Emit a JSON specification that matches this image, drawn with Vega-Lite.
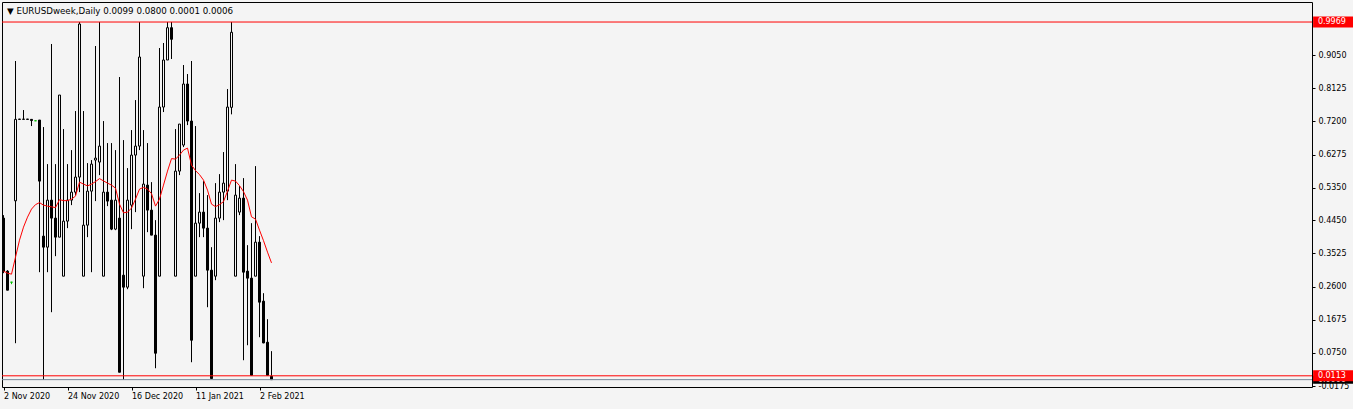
{
  "$schema": "https://vega.github.io/schema/vega-lite/v6.json",
  "width": 1310,
  "height": 385,
  "autosize": "none",
  "padding": {"left": 2, "top": 2, "right": 41, "bottom": 22},
  "background": "#f4f4f4",
  "config": {
    "view": {"fill": "#f4f4f4", "stroke": "#000000", "strokeWidth": 1},
    "font": "DejaVu Sans",
    "axis": {"labelOverlap": false}
  },
  "title": {
    "text": "▼  EURUSDweek,Daily  0.0099 0.0800 0.0001 0.0006",
    "anchor": "start",
    "frame": "group",
    "orient": "top",
    "offset": -11,
    "dy": 10,
    "baseline": "alphabetic",
    "font": "DejaVu Sans",
    "fontSize": 8.7,
    "fontWeight": "normal",
    "color": "#000000",
    "dx": 5
  },
  "datasets": {
    "bars": [
      {"n":0,"d":"2020-11-02","o":0.4506,"h":0.4589,"l":0.2972,"c":0.3028,"ma":0.3028},
      {"n":1,"d":"2020-11-03","o":0.3028,"h":0.3056,"l":0.2498,"c":0.2498,"ma":0.2972},
      {"n":2,"d":"2020-11-04","o":0.2721,"h":0.2721,"l":0.2666,"c":0.2721,"ma":0.2944},
      {"n":3,"d":"2020-11-05","o":0.4988,"h":0.8883,"l":0.1021,"c":0.7257,"ma":0.3418},
      {"n":4,"d":"2020-11-06","o":0.7266,"h":0.7266,"l":0.7252,"c":0.7257,"ma":0.3892},
      {"n":5,"d":"2020-11-09","o":0.7257,"h":0.7517,"l":0.7252,"c":0.7266,"ma":0.4255},
      {"n":6,"d":"2020-11-10","o":0.7266,"h":0.7266,"l":0.7252,"c":0.7257,"ma":0.4533},
      {"n":7,"d":"2020-11-11","o":0.7257,"h":0.7266,"l":0.7071,"c":0.7224,"ma":0.4757},
      {"n":8,"d":"2020-11-12","o":0.7218,"h":0.7218,"l":0.7210,"c":0.7218,"ma":0.4882},
      {"n":9,"d":"2020-11-13","o":0.7238,"h":0.7238,"l":0.3000,"c":0.5537,"ma":0.4938},
      {"n":10,"d":"2020-11-16","o":0.4004,"h":0.7043,"l":0.0001,"c":0.3697,"ma":0.4868},
      {"n":11,"d":"2020-11-17","o":0.3697,"h":0.6011,"l":0.3000,"c":0.5007,"ma":0.4840},
      {"n":12,"d":"2020-11-18","o":0.5007,"h":0.9357,"l":0.1885,"c":0.4506,"ma":0.4821},
      {"n":13,"d":"2020-11-19","o":0.4506,"h":0.6011,"l":0.3446,"c":0.3976,"ma":0.4798},
      {"n":14,"d":"2020-11-20","o":0.3976,"h":0.7935,"l":0.3976,"c":0.7935,"ma":0.5021},
      {"n":15,"d":"2020-11-23","o":0.2889,"h":0.6987,"l":0.2889,"c":0.4422,"ma":0.4993},
      {"n":16,"d":"2020-11-24","o":0.4422,"h":0.6011,"l":0.4227,"c":0.5007,"ma":0.4993},
      {"n":17,"d":"2020-11-25","o":0.5007,"h":0.6401,"l":0.4868,"c":0.5230,"ma":0.5035},
      {"n":18,"d":"2020-11-26","o":0.5230,"h":0.7489,"l":0.5147,"c":0.5649,"ma":0.5119},
      {"n":19,"d":"2020-11-27","o":0.5649,"h":0.9969,"l":0.5230,"c":0.9914,"ma":0.5509},
      {"n":20,"d":"2020-11-30","o":0.2889,"h":0.7489,"l":0.2889,"c":0.4310,"ma":0.5454},
      {"n":21,"d":"2020-12-01","o":0.4310,"h":0.6039,"l":0.3976,"c":0.5258,"ma":0.5403},
      {"n":22,"d":"2020-12-02","o":0.5258,"h":0.6123,"l":0.3000,"c":0.6011,"ma":0.5454},
      {"n":23,"d":"2020-12-03","o":0.6123,"h":0.9301,"l":0.4980,"c":0.6178,"ma":0.5523},
      {"n":24,"d":"2020-12-04","o":0.6067,"h":0.9969,"l":0.5704,"c":0.6513,"ma":0.5607},
      {"n":25,"d":"2020-12-07","o":0.2889,"h":0.7210,"l":0.2889,"c":0.5230,"ma":0.5543},
      {"n":26,"d":"2020-12-08","o":0.5230,"h":0.6597,"l":0.4840,"c":0.4980,"ma":0.5481},
      {"n":27,"d":"2020-12-09","o":0.5007,"h":0.6597,"l":0.4171,"c":0.4199,"ma":0.5426},
      {"n":28,"d":"2020-12-10","o":0.4199,"h":0.6401,"l":0.4171,"c":0.5007,"ma":0.5342},
      {"n":29,"d":"2020-12-11","o":0.4506,"h":0.8437,"l":0.0212,"c":0.0212,"ma":0.4896},
      {"n":30,"d":"2020-12-14","o":0.2916,"h":0.6680,"l":0.0001,"c":0.2582,"ma":0.4653},
      {"n":31,"d":"2020-12-15","o":0.2582,"h":0.5900,"l":0.2526,"c":0.5007,"ma":0.4673},
      {"n":32,"d":"2020-12-16","o":0.4868,"h":0.6959,"l":0.4199,"c":0.6262,"ma":0.4784},
      {"n":33,"d":"2020-12-17","o":0.6262,"h":0.7795,"l":0.4673,"c":0.6513,"ma":0.5035},
      {"n":34,"d":"2020-12-18","o":0.6513,"h":0.9969,"l":0.6401,"c":0.8994,"ma":0.5314},
      {"n":35,"d":"2020-12-21","o":0.2889,"h":0.6959,"l":0.2554,"c":0.5454,"ma":0.5362},
      {"n":36,"d":"2020-12-22","o":0.5426,"h":0.6597,"l":0.4115,"c":0.4729,"ma":0.5314},
      {"n":37,"d":"2020-12-23","o":0.4729,"h":0.5509,"l":0.4032,"c":0.4032,"ma":0.5189},
      {"n":38,"d":"2020-12-24","o":0.4032,"h":0.4450,"l":0.0324,"c":0.0742,"ma":0.4840},
      {"n":39,"d":"2020-12-28","o":0.2889,"h":0.9245,"l":0.2889,"c":0.7600,"ma":0.5035},
      {"n":40,"d":"2020-12-29","o":0.7600,"h":0.9385,"l":0.7461,"c":0.8911,"ma":0.5426},
      {"n":41,"d":"2020-12-30","o":0.8911,"h":0.9969,"l":0.8911,"c":0.9811,"ma":0.5816},
      {"n":42,"d":"2020-12-31","o":0.9811,"h":0.9969,"l":0.8939,"c":0.9488,"ma":0.6164},
      {"n":43,"d":"2021-01-04","o":0.2889,"h":0.6987,"l":0.2889,"c":0.5816,"ma":0.6150},
      {"n":44,"d":"2021-01-05","o":0.5816,"h":0.7071,"l":0.5704,"c":0.7126,"ma":0.6262},
      {"n":45,"d":"2021-01-06","o":0.6541,"h":0.8771,"l":0.6485,"c":0.8242,"ma":0.6401},
      {"n":46,"d":"2021-01-07","o":0.8242,"h":0.8520,"l":0.7098,"c":0.7210,"ma":0.6457},
      {"n":47,"d":"2021-01-08","o":0.7210,"h":0.8883,"l":0.0491,"c":0.1104,"ma":0.5983},
      {"n":48,"d":"2021-01-11","o":0.2889,"h":0.7071,"l":0.2889,"c":0.4366,"ma":0.5830},
      {"n":49,"d":"2021-01-12","o":0.4366,"h":0.5203,"l":0.3976,"c":0.4673,"ma":0.5718},
      {"n":50,"d":"2021-01-13","o":0.4673,"h":0.5537,"l":0.3976,"c":0.4227,"ma":0.5565},
      {"n":51,"d":"2021-01-14","o":0.4227,"h":0.5147,"l":0.2024,"c":0.3056,"ma":0.5286},
      {"n":52,"d":"2021-01-15","o":0.3056,"h":0.3697,"l":0.0036,"c":0.0036,"ma":0.4896},
      {"n":53,"d":"2021-01-18","o":0.2889,"h":0.5481,"l":0.2777,"c":0.4506,"ma":0.4826},
      {"n":54,"d":"2021-01-19","o":0.4506,"h":0.5732,"l":0.4394,"c":0.5230,"ma":0.4882},
      {"n":55,"d":"2021-01-20","o":0.5230,"h":0.6346,"l":0.4450,"c":0.5481,"ma":0.4966},
      {"n":56,"d":"2021-01-21","o":0.5258,"h":0.8102,"l":0.5007,"c":0.7600,"ma":0.5258},
      {"n":57,"d":"2021-01-22","o":0.7592,"h":0.9969,"l":0.7397,"c":0.9683,"ma":0.5565},
      {"n":58,"d":"2021-01-25","o":0.2889,"h":0.6011,"l":0.2889,"c":0.5147,"ma":0.5537},
      {"n":59,"d":"2021-01-26","o":0.4673,"h":0.5398,"l":0.4589,"c":0.5063,"ma":0.5412},
      {"n":60,"d":"2021-01-27","o":0.5063,"h":0.5621,"l":0.0547,"c":0.3000,"ma":0.5244},
      {"n":61,"d":"2021-01-28","o":0.3028,"h":0.3753,"l":0.0965,"c":0.2833,"ma":0.5007},
      {"n":62,"d":"2021-01-29","o":0.2833,"h":0.4366,"l":0.0128,"c":0.0128,"ma":0.4542},
      {"n":63,"d":"2021-02-01","o":0.2889,"h":0.5955,"l":0.2889,"c":0.3836,"ma":0.4478},
      {"n":64,"d":"2021-02-02","o":0.3836,"h":0.4004,"l":0.1188,"c":0.2164,"ma":0.4171},
      {"n":65,"d":"2021-02-03","o":0.2192,"h":0.2415,"l":0.1021,"c":0.1029,"ma":0.3878},
      {"n":66,"d":"2021-02-04","o":0.1048,"h":0.1690,"l":0.0128,"c":0.0128,"ma":0.3558},
      {"n":67,"d":"2021-02-05","o":0.0099,"h":0.0800,"l":0.0001,"c":0.0006,"ma":0.3259}
    ],
    "levels": [
      {"v": 0.0006, "kind": "bid"},
      {"v": 0.9969, "kind": "level"},
      {"v": 0.0113, "kind": "level"}
    ]
  },
  "data": {"name": "bars"},
  "encoding": {
    "y": {
      "type": "quantitative",
      "scale": {"domain": [-0.0199, 1.0527], "nice": false, "zero": false, "padding": 0},
      "axis": {
        "orient": "right",
        "values": [0.905, 0.8125, 0.72, 0.6275, 0.535, 0.445, 0.3525, 0.26, 0.1675, 0.075, -0.0175],
        "labelExpr": "replace(format(datum.value, '.4f'), '\u2212', '-')",
        "labelFont": "DejaVu Sans",
        "labelFontSize": 8,
        "labelColor": "#000000",
        "labelPadding": 3,
        "labelOverlap": false,
        "labelFlush": false,
        "labelBound": false,
        "tickSize": 3,
        "tickColor": "#000000",
        "domain": false,
        "grid": false,
        "title": null
      }
    }
  },
  "layer": [
    {
      "mark": {"type": "rule", "strokeWidth": 1},
      "encoding": {
        "x": {
          "field": "n",
          "type": "quantitative",
          "scale": {"domain": [-0.375, 327.125], "nice": false, "zero": false, "padding": 0},
          "axis": {
            "orient": "bottom",
            "values": [0, 16, 32, 48, 64],
            "labelExpr": "datum.value == 0 ? '2 Nov 2020' : datum.value == 16 ? '24 Nov 2020' : datum.value == 32 ? '16 Dec 2020' : datum.value == 48 ? '11 Jan 2021' : '2 Feb 2021'",
            "labelAlign": "left",
            "labelFont": "DejaVu Sans",
            "labelFontSize": 8,
            "labelColor": "#000000",
            "labelPadding": 2,
            "labelOverlap": false,
            "labelFlush": false,
            "labelBound": false,
            "tickSize": 3,
            "tickColor": "#000000",
            "domain": false,
            "grid": false,
            "title": null
          }
        },
        "y": {"field": "h"},
        "y2": {"field": "l"},
        "color": {
          "condition": {"test": "datum.o == datum.c", "value": "#00c000"},
          "value": "#000000"
        }
      }
    },
    {
      "mark": {"type": "bar", "width": 2, "strokeWidth": 1, "stroke": "#000000"},
      "encoding": {
        "x": {"field": "n", "type": "quantitative"},
        "y": {"field": "o"},
        "y2": {"field": "c"},
        "fill": {
          "condition": {"test": "datum.c >= datum.o", "value": "#f4f4f4"},
          "value": "#000000"
        },
        "stroke": {
          "condition": {"test": "datum.o == datum.c", "value": "#00c000"},
          "value": "#000000"
        }
      }
    },
    {
      "mark": {"type": "line", "color": "#ff0000", "strokeWidth": 1, "interpolate": "linear"},
      "encoding": {
        "x": {"field": "n", "type": "quantitative"},
        "y": {"field": "ma"}
      }
    },
    {
      "data": {"name": "levels"},
      "mark": {"type": "rule", "strokeWidth": 1},
      "encoding": {
        "y": {"field": "v"},
        "color": {
          "condition": {"test": "datum.kind == 'bid'", "value": "#778899"},
          "value": "#ff0000"
        }
      }
    },
    {
      "data": {"name": "levels"},
      "transform": [{"filter": "datum.kind == 'bid'"}],
      "mark": {"type": "point", "shape": "M-1,-0.2L1,-0.2L1,0.2L-1,0.2Z", "size": 1600, "filled": true, "opacity": 1, "color": "#000000", "strokeWidth": 0, "clip": false},
      "encoding": {
        "x": {"datum": 332.4, "type": "quantitative"},
        "y": {"field": "v"}
      }
    },
    {
      "data": {"name": "levels"},
      "transform": [{"filter": "datum.kind == 'bid'"}],
      "mark": {"type": "text", "align": "left", "baseline": "middle", "color": "#ffffff", "font": "DejaVu Sans", "fontSize": 8, "clip": false},
      "encoding": {
        "x": {"datum": 328.6, "type": "quantitative"},
        "y": {"field": "v"},
        "text": {"field": "v", "type": "quantitative", "format": ".4f"}
      }
    },
    {
      "data": {"name": "levels"},
      "transform": [{"filter": "datum.kind == 'level'"}],
      "mark": {"type": "point", "shape": "M-1,-0.275L1,-0.275L1,0.275L-1,0.275Z", "size": 1600, "filled": true, "opacity": 1, "color": "#ff0000", "strokeWidth": 0, "clip": false},
      "encoding": {
        "x": {"datum": 332.4, "type": "quantitative"},
        "y": {"field": "v"}
      }
    },
    {
      "data": {"name": "levels"},
      "transform": [{"filter": "datum.kind == 'level'"}],
      "mark": {"type": "text", "align": "left", "baseline": "middle", "color": "#ffffff", "font": "DejaVu Sans", "fontSize": 8, "clip": false},
      "encoding": {
        "x": {"datum": 328.6, "type": "quantitative"},
        "y": {"field": "v"},
        "text": {"field": "v", "type": "quantitative", "format": ".4f"}
      }
    }
  ]
}
